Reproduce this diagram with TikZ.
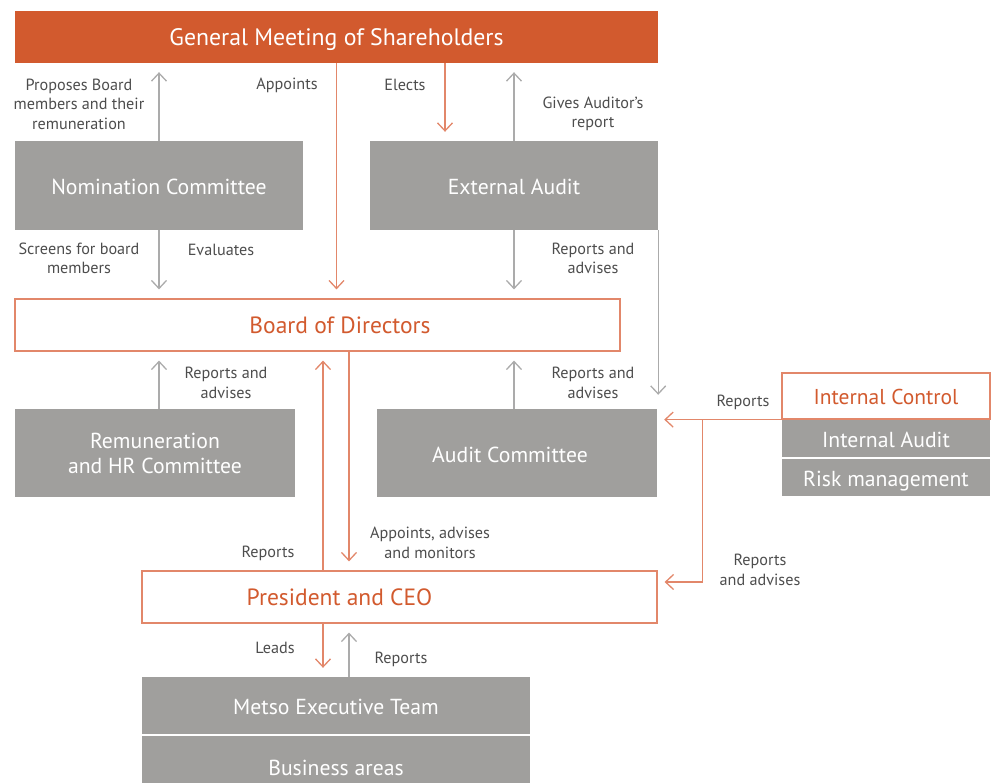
\documentclass[tikz,border=0pt]{standalone}
\usepackage{fontspec}
\setmainfont{PT Sans}
\usetikzlibrary{arrows.meta}

\definecolor{metsoorange}{HTML}{D25A2E}
\definecolor{lineorange}{HTML}{E2876A}
\definecolor{boxgray}{HTML}{A09F9D}
\definecolor{linegray}{HTML}{ABABAB}
\definecolor{labelgray}{HTML}{4D4D4D}

\tikzset{
  grayfill/.style={fill=boxgray, text=white, font=\fontsize{21.7}{25}\selectfont, align=center, inner sep=0pt},
  graybox/.style={grayfill, text height=18.5pt, text depth=0pt},
  openbox/.style={draw=lineorange, line width=1.2pt, fill=white, text=metsoorange, font=\fontsize{23.5}{27}\selectfont, inner sep=0pt, text height=17.5pt, text depth=0pt},
  lbl/.style={text=labelgray, font=\fontsize{16.2}{19.5}\selectfont, align=center},
  grayarr/.style={draw=linegray, line width=1.3pt, shorten >=9pt, -{Straight Barb[length=8pt,width=15pt]}},
  orangearr/.style={draw=lineorange, line width=1.3pt, shorten >=9pt, -{Straight Barb[length=8pt,width=15pt]}},
}

\begin{document}
\begin{tikzpicture}[x=1pt, y=-1pt]
    \useasboundingbox (0,0) rectangle (992,783);
    \clip (0,0) rectangle (992,783);

    % boxes
    \node[fill=metsoorange, text=white, font=\fontsize{23.8}{27}\selectfont, minimum width=643pt, minimum height=52pt, inner sep=0pt, text height=17.5pt, text depth=0pt] (gm) at (336.5,37) {General Meeting of Shareholders};
    \node[graybox, minimum width=288pt, minimum height=89pt] (nom) at (159,185.5) {Nomination Committee};
    \node[graybox, minimum width=288pt, minimum height=89pt] (ext) at (514,185.5) {External Audit};
    \node[openbox, minimum width=605pt, minimum height=52pt] (board) at (317.5,325) {\hspace*{45pt}Board of Directors};
    \node[grayfill, minimum width=280pt, minimum height=88pt] (rem) at (155,453) {Remuneration\\and HR Committee};
    \node[graybox, minimum width=280pt, minimum height=88pt] (aud) at (517,453) {Audit Committee\hspace*{14pt}};
    \node[openbox, font=\fontsize{21.5}{25}\selectfont, minimum width=208pt, minimum height=46pt] (ic) at (886,396) {Internal Control};
    \node[graybox, minimum width=208pt, minimum height=37pt] (ia) at (886,438.5) {Internal Audit};
    \node[graybox, minimum width=208pt, minimum height=37pt] (risk) at (886,477.5) {Risk management};
    \node[openbox, minimum width=515pt, minimum height=52pt] (ceo) at (399.5,597) {President and CEO\hspace*{120pt}};
    \node[graybox, minimum width=388pt, minimum height=57pt] (met) at (336,705.5) {Metso Executive Team};
    \node[graybox, minimum width=388pt, minimum height=60pt] (biz) at (336,766) {Business areas};

    \coordinate (elect) at ([xshift=-69pt]ext.north);
    \coordinate (ceoup) at ([xshift=-13pt]met.north);
    \coordinate (ceodown) at ([xshift=13pt]met.north);
    \coordinate (split) at ([xshift=-79pt]ic.south west);

    % connectors
    \draw[grayarr] (nom.north) -- (nom.north |- gm.south);
    \draw[orangearr] (gm.south) -- (gm.south |- board.north);
    \draw[orangearr] (elect |- gm.south) -- (elect);
    \draw[grayarr] (ext.north) -- (ext.north |- gm.south);
    \draw[grayarr] (nom.south) -- (nom.south |- board.north);
    \draw[grayarr] (ext.south) -- (ext.south |- board.north);
    \draw[grayarr] (nom.south |- rem.north) -- (nom.south |- board.south);
    \draw[grayarr] (ext.south |- aud.north) -- (ext.south |- board.south);
    \draw[grayarr, shorten >=14pt] (ext.south east) -- (ext.south east |- aud.north);
    \draw[orangearr, shorten >=7pt] (ic.south west) -- (ic.south west -| aud.east);
    \draw[orangearr, shorten >=7pt] (split) |- ([yshift=15pt]ceo.east);
    \draw[orangearr] (ceoup |- ceo.north) -- (ceoup |- board.south);
    \draw[orangearr] (ceodown |- board.south) -- (ceodown |- ceo.north);
    \draw[orangearr] (ceoup |- ceo.south) -- (ceoup);
    \draw[grayarr] (ceodown) -- (ceodown |- ceo.south);

    % labels
    \node[lbl] (lpropose) at (79,104) {Proposes Board\\members and their\\remuneration};
    \node[lbl] (lappoint) at (287,85) {Appoints};
    \node[lbl] (lelect) at (405,85) {Elects};
    \node[lbl] (lgives) at (593,114) {Gives Auditor’s\\report};
    \node[lbl] (lscreen) at (79,258.5) {Screens for board\\members};
    \node[lbl] (leval) at (221,250) {Evaluates};
    \node[lbl] (lextrep) at (593,258.5) {Reports and\\advises};
    \node[lbl] (lremrep) at (226,383) {Reports and\\advises};
    \node[lbl] (laudrep) at (593,383) {Reports and\\advises};
    \node[lbl] (licrep) at (743,402) {Reports};
    \node[lbl] (licadv) at (760,570) {Reports\\and advises};
    \node[lbl] (lceorep) at (268,553) {Reports};
    \node[lbl] (lmonitor) at (430,543) {Appoints, advises\\and monitors};
    \node[lbl] (llead) at (275,648) {Leads};
    \node[lbl] (lmetrep) at (401,659) {Reports};
\end{tikzpicture}
\end{document}
